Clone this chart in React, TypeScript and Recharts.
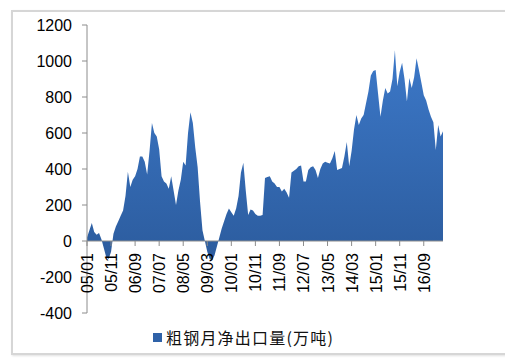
import React from "react"
import { AreaChart, Area, XAxis, YAxis, ReferenceLine } from "recharts"

// monthly crude steel net exports, 2005/01 - 2017/05 (万吨)
const values = [
  20, 60, 100, 50, 35, 45, 10, -40, -90, -100,
  -60, 40, 80, 110, 140, 170, 250, 385, 300, 340,
  360, 400, 470, 470, 440, 370, 500, 655, 600, 580,
  510, 360, 330, 320, 290, 360, 280, 200, 280, 340,
  440, 420, 600, 715, 655, 520, 410, 218, 60, 0,
  -60, -100, -105, -80, -30, 20, 70, 110, 150, 180,
  160, 140, 180, 250, 380, 435, 280, 145, 175, 170,
  150, 140, 140, 145, 350, 355, 360, 330, 320, 300,
  300, 275, 290, 270, 240, 380, 390, 400, 415, 420,
  330, 330, 395, 410, 415, 395, 350, 400, 430, 440,
  435, 430, 460, 500, 395, 400, 405, 470, 550, 415,
  500, 620, 700, 645, 680, 700, 765, 830, 920, 945,
  950, 820, 690, 780, 850, 820, 830, 900, 1060, 860,
  940, 990, 900, 775, 905, 850, 910, 1015, 950, 880,
  810, 780, 730, 690, 660, 505, 645, 580, 610,
]

const months = values.map((_, i) => {
  const y = 5 + Math.floor(i / 12)
  const m = (i % 12) + 1
  return `${String(y).padStart(2, "0")}/${String(m).padStart(2, "0")}`
})

const xTicks = [
  "05/01", "05/11", "06/09", "07/07", "08/05", "09/03", "10/01", "10/11",
  "11/09", "12/07", "13/05", "14/03", "15/01", "15/11", "16/09",
]
const yTicks = [-400, -200, 0, 200, 400, 600, 800, 1000, 1200]

const data = months.map((m, i) => ({ month: m, value: values[i] }))

const W = 505
const H = 354
const TOP = 17
const XAXIS_H = 49
const PLOT_H = H - TOP - XAXIS_H
const ZERO_Y = TOP + PLOT_H * (1200 / 1600)
const FONT = "'Liberation Sans', Arial, sans-serif"

function XTick(props: any) {
  const { payload } = props
  const x = payload.coordinate
  return (
    <g>
      <line x1={x} x2={x} y1={ZERO_Y} y2={ZERO_Y + 5} stroke="#8c8c8c" />
      <text
        x={x + 6}
        y={ZERO_Y + 12}
        transform={`rotate(-90, ${x + 6}, ${ZERO_Y + 12})`}
        textAnchor="end"
        fontSize={16}
        fontFamily={FONT}
        fill="#000"
      >
        {payload.value}
      </text>
    </g>
  )
}

export default function App() {
  return (
    <div style={{ position: "relative", width: W, height: H }}>
      <div
        style={{
          position: "absolute",
          left: 3,
          top: 2,
          width: 493,
          height: 341,
          border: "2px solid #d6d6d6",
          boxShadow: "1px 1px 2px #e0e0e0",
        }}
      />
      <div style={{ position: "absolute", left: 0, top: 0 }}>
        <AreaChart
          width={W}
          height={H}
          data={data}
          margin={{ top: TOP, right: 70, left: 0, bottom: 0 }}
        >
          <defs>
            <linearGradient id="fillBlue" x1="0" y1="0" x2="0" y2="1">
              <stop offset="0%" stopColor="#3c78c8" />
              <stop offset="100%" stopColor="#2c5c9e" />
            </linearGradient>
          </defs>
          <XAxis
            dataKey="month"
            ticks={xTicks}
            interval={0}
            height={XAXIS_H}
            axisLine={false}
            tickLine={false}
            tick={<XTick />}
          />
          <YAxis
            width={79}
            domain={[-400, 1200]}
            ticks={yTicks}
            interval={0}
            tickSize={5}
            tickMargin={10}
            axisLine={{ stroke: "#8c8c8c" }}
            tickLine={{ stroke: "#8c8c8c" }}
            tick={{ fontSize: 16, fontFamily: FONT, fill: "#000" }}
          />
          <Area
            type="linear"
            dataKey="value"
            baseValue={0}
            stroke="none"
            fill="url(#fillBlue)"
            fillOpacity={1}
            isAnimationActive={false}
          />
          <ReferenceLine y={0} stroke="#8c8c8c" />
        </AreaChart>
      </div>
      <div
        style={{
          position: "absolute",
          left: 145,
          top: 317,
          display: "flex",
          alignItems: "center",
          fontFamily: "'Noto Sans CJK SC', serif",
          fontSize: 16,
          letterSpacing: 1.2,
          color: "#111",
          whiteSpace: "nowrap",
        }}
      >
        <span
          style={{
            display: "inline-block",
            width: 9,
            height: 9,
            background: "#2f62a8",
            marginRight: 4,
          }}
        />
        粗钢月净出口量(万吨)
      </div>
    </div>
  )
}
